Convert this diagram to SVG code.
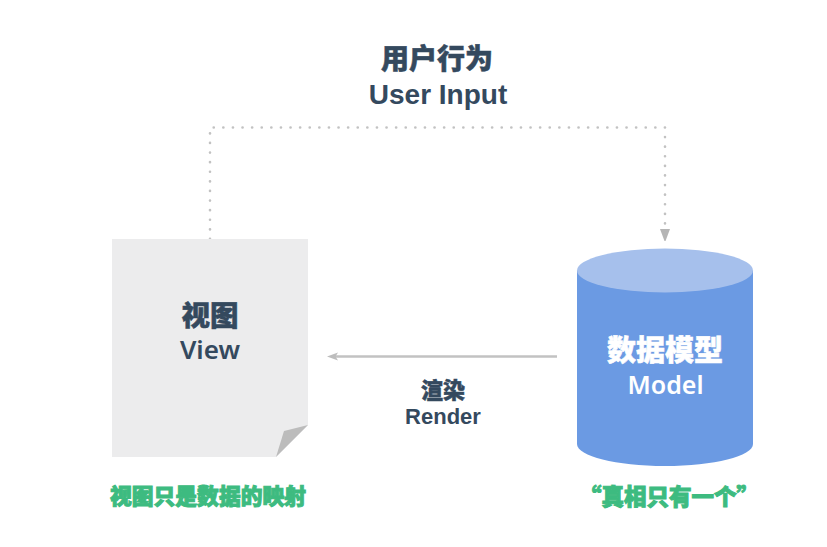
<svg xmlns="http://www.w3.org/2000/svg" width="827" height="547" viewBox="0 0 827 547">
<defs>
<style>
text{text-anchor:middle;font-family:"Noto Sans","Noto Sans CJK SC",sans-serif;fill:#34495e}
.cn{font-family:"Noto Sans CJK SC",sans-serif;font-weight:900;stroke:#34495e;stroke-width:.5px}
.en{font-weight:600}
.ar{font-family:"Liberation Sans","Noto Sans CJK SC",sans-serif;font-weight:700}
.g{fill:#3dbb80;font-family:"Noto Sans CJK SC",sans-serif;font-weight:900;font-size:21.800px;stroke:#3dbb80;stroke-width:1px}
.w{fill:#fff}
.cn.w{stroke:#fff}
.c{fill:none;stroke:#c2c2c2}
</style>
</defs>
<rect width="827" height="547" fill="#fff"/>
<g id="connectors">
<path class="c" d="M210 239V127.500H665V230" stroke-width="2.600" stroke-dasharray="0.100 9.500" stroke-linecap="round"/>
<path d="M660 229H670L665.500 241H664.500Z" fill="#b5b5b5"/>
<path class="c" d="M557 356.500H335" stroke-width="2.500"/>
<path d="M327 356.500L338 352.500L335.500 356.500L338 360.500Z" fill="#bdbdbd"/>
</g>
<g id="user-input">
<text class="cn" x="437" y="69" font-size="28">用户行为</text>
<text class="ar" x="438" y="104" font-size="28">User Input</text>
</g>
<g id="view">
<path d="M112 239H308V425L276 457H112Z" fill="#ececed"/>
<path d="M308 425L284 431L276 457Z" fill="#bcbcbc"/>
<text class="cn" x="210" y="326" font-size="28.500">视图</text>
<text class="en" x="210" y="359" font-size="26">View</text>
<text class="g" x="208" y="504">视图只是数据的映射</text>
</g>
<g id="model">
<path d="M577 271V444C577 456 616 466 665 466C714 466 753 456 753 444V271Z" fill="#6b9ae3"/>
<ellipse cx="665" cy="270.500" rx="88" ry="22" fill="#a6c0ec"/>
<text class="cn w" x="665" y="361" font-size="29">数据模型</text>
<text class="en w" x="665.500" y="394" font-size="25">Model</text>
<text class="g" x="669" y="505" style="font-size:22.500px">“真相只有一个”</text>
</g>
<g id="render">
<text class="cn" x="443" y="398" font-size="22">渲染</text>
<text class="ar" x="443" y="424" font-size="22" style="font-weight:600">Render</text>
</g>
</svg>
